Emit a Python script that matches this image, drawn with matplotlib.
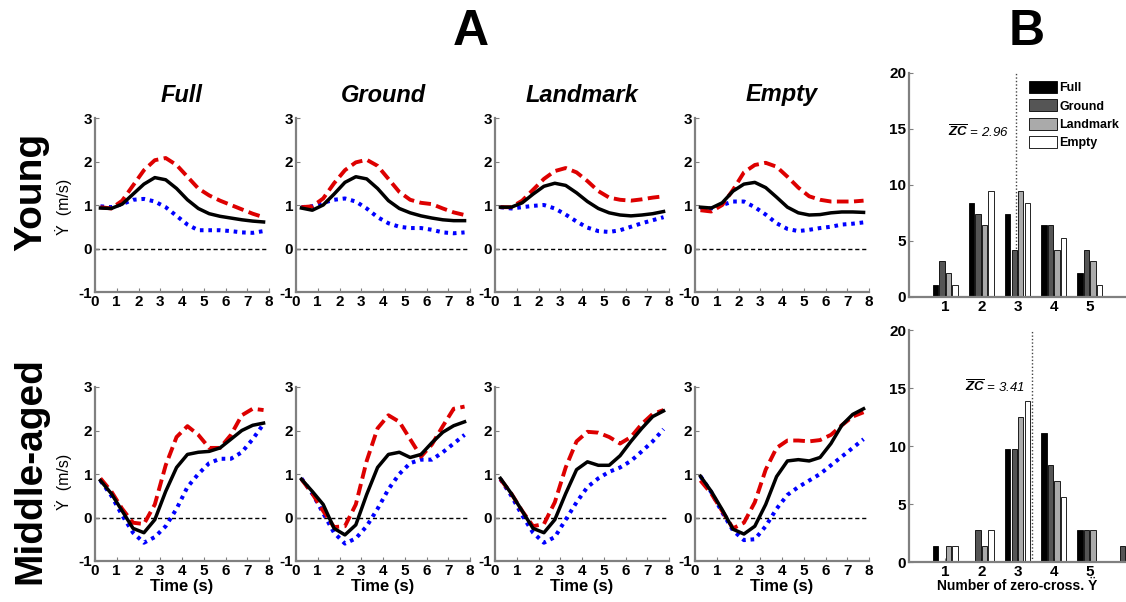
import matplotlib
matplotlib.use("Agg")
import matplotlib.pyplot as plt
from matplotlib.patches import Patch

plt.rcParams['font.family'] = ['Liberation Sans', 'DejaVu Sans']
plt.rcParams['font.weight'] = 'bold'
plt.rcParams['axes.unicode_minus'] = False
plt.rcParams['mathtext.fontset'] = 'custom'
plt.rcParams['mathtext.it'] = 'Liberation Sans:italic'
plt.rcParams['mathtext.rm'] = 'Liberation Sans'

# ---------------- time courses (m/s) ----------------
t = [0.25, 0.75, 1.25, 1.75, 2.25, 2.75, 3.25, 3.75,
     4.25, 4.75, 5.25, 5.75, 6.25, 6.75, 7.25, 7.75]

conditions = ["Full", "Ground", "Landmark", "Empty"]

# Young group
yng_full_k = [0.93, 0.92, 1.02, 1.25, 1.48, 1.63, 1.58, 1.38, 1.12, 0.92, 0.80, 0.74, 0.70, 0.66, 0.63, 0.61]
yng_full_r = [0.95, 0.92, 1.10, 1.45, 1.80, 2.03, 2.08, 1.92, 1.65, 1.38, 1.22, 1.10, 1.00, 0.90, 0.80, 0.72]
yng_full_b = [0.97, 0.95, 1.02, 1.12, 1.14, 1.08, 0.95, 0.75, 0.55, 0.42, 0.42, 0.42, 0.40, 0.37, 0.36, 0.40]

yng_grnd_k = [0.93, 0.88, 1.00, 1.25, 1.52, 1.65, 1.60, 1.38, 1.10, 0.92, 0.82, 0.75, 0.70, 0.66, 0.64, 0.64]
yng_grnd_r = [0.95, 0.97, 1.15, 1.50, 1.80, 1.98, 2.04, 1.90, 1.60, 1.30, 1.12, 1.05, 1.02, 0.92, 0.83, 0.77]
yng_grnd_b = [0.95, 0.97, 1.05, 1.12, 1.15, 1.08, 0.92, 0.72, 0.58, 0.50, 0.47, 0.47, 0.43, 0.37, 0.35, 0.37]

yng_lmk_k = [0.95, 0.95, 1.05, 1.25, 1.43, 1.50, 1.45, 1.28, 1.08, 0.92, 0.82, 0.77, 0.75, 0.77, 0.80, 0.85]
yng_lmk_r = [0.95, 0.95, 1.10, 1.35, 1.60, 1.78, 1.85, 1.75, 1.55, 1.32, 1.17, 1.12, 1.10, 1.13, 1.17, 1.20]
yng_lmk_b = [0.95, 0.92, 0.95, 0.98, 1.00, 0.92, 0.78, 0.62, 0.48, 0.40, 0.38, 0.42, 0.50, 0.58, 0.65, 0.72]

yng_empt_k = [0.95, 0.93, 1.05, 1.32, 1.48, 1.52, 1.40, 1.18, 0.95, 0.82, 0.77, 0.78, 0.82, 0.84, 0.84, 0.83]
yng_empt_r = [0.88, 0.85, 1.00, 1.35, 1.75, 1.92, 1.97, 1.88, 1.65, 1.40, 1.20, 1.12, 1.08, 1.08, 1.08, 1.10]
yng_empt_b = [0.93, 0.92, 1.00, 1.08, 1.08, 0.95, 0.78, 0.58, 0.45, 0.40, 0.43, 0.47, 0.50, 0.55, 0.57, 0.60]

# Middle-aged group
mid_full_k = [0.85, 0.55, 0.15, -0.25, -0.35, -0.05, 0.60, 1.15, 1.45, 1.50, 1.52, 1.60, 1.80, 2.00, 2.12, 2.17]
mid_full_r = [0.90, 0.60, 0.20, -0.12, -0.15, 0.30, 1.20, 1.85, 2.10, 1.90, 1.60, 1.60, 1.90, 2.35, 2.50, 2.47]
mid_full_b = [0.85, 0.50, 0.05, -0.35, -0.58, -0.45, -0.20, 0.20, 0.70, 1.00, 1.25, 1.35, 1.35, 1.50, 1.80, 2.15]

mid_grnd_k = [0.88, 0.60, 0.30, -0.25, -0.40, -0.17, 0.53, 1.15, 1.45, 1.50, 1.38, 1.45, 1.72, 1.96, 2.11, 2.20]
mid_grnd_r = [0.88, 0.55, 0.15, -0.22, -0.20, 0.30, 1.30, 2.05, 2.35, 2.20, 1.80, 1.40, 1.68, 2.10, 2.50, 2.55]
mid_grnd_b = [0.90, 0.55, 0.10, -0.35, -0.60, -0.48, -0.20, 0.20, 0.65, 1.00, 1.25, 1.33, 1.33, 1.50, 1.70, 1.90]

mid_lmk_k = [0.90, 0.55, 0.15, -0.25, -0.35, -0.05, 0.55, 1.10, 1.28, 1.20, 1.20, 1.42, 1.75, 2.05, 2.32, 2.45]
mid_lmk_r = [0.88, 0.55, 0.15, -0.20, -0.15, 0.35, 1.15, 1.75, 1.97, 1.95, 1.85, 1.70, 1.85, 2.15, 2.38, 2.47]
mid_lmk_b = [0.88, 0.50, 0.05, -0.35, -0.58, -0.45, -0.05, 0.35, 0.70, 0.90, 1.05, 1.15, 1.30, 1.52, 1.75, 2.03]

mid_empt_k = [0.95, 0.60, 0.18, -0.27, -0.38, -0.20, 0.30, 0.94, 1.30, 1.33, 1.30, 1.38, 1.70, 2.12, 2.37, 2.50]
mid_empt_r = [0.85, 0.55, 0.15, -0.25, -0.12, 0.35, 1.10, 1.60, 1.77, 1.77, 1.75, 1.78, 1.90, 2.12, 2.32, 2.42]
mid_empt_b = [0.95, 0.58, 0.12, -0.30, -0.52, -0.50, -0.20, 0.20, 0.52, 0.70, 0.85, 1.00, 1.20, 1.40, 1.60, 1.80]

young_rows = [(yng_full_k, yng_full_r, yng_full_b),
              (yng_grnd_k, yng_grnd_r, yng_grnd_b),
              (yng_lmk_k, yng_lmk_r, yng_lmk_b),
              (yng_empt_k, yng_empt_r, yng_empt_b)]
middle_rows = [(mid_full_k, mid_full_r, mid_full_b),
               (mid_grnd_k, mid_grnd_r, mid_grnd_b),
               (mid_lmk_k, mid_lmk_r, mid_lmk_b),
               (mid_empt_k, mid_empt_r, mid_empt_b)]

# ---------------- zero-crossing histograms (%) ----------------
zc_bins = [1, 2, 3, 4, 5, 6]
yng_zc_full = [1.1, 8.4, 7.4, 6.4, 2.1, 0.0]
yng_zc_grnd = [3.2, 7.4, 4.2, 6.4, 4.2, 0.0]
yng_zc_lmk = [2.1, 6.4, 9.5, 4.2, 3.2, 0.0]
yng_zc_empt = [1.1, 9.5, 8.4, 5.3, 1.1, 0.0]
yng_zc_mean = 2.96

mid_zc_full = [1.4, 0.0, 9.7, 11.1, 2.8, 0.0]
mid_zc_grnd = [0.0, 2.8, 9.7, 8.35, 2.8, 1.4]
mid_zc_lmk = [1.4, 1.4, 12.5, 6.95, 2.8, 0.0]
mid_zc_empt = [1.4, 2.8, 13.9, 5.6, 0.0, 0.0]
mid_zc_mean = 3.41

bar_colors = ["#000000", "#555555", "#aaaaaa", "#ffffff"]

# ---------------- figure ----------------
W, H = 1126, 602
fig = plt.figure(figsize=(W / 100, H / 100), dpi=100)
fig.patch.set_facecolor("white")


def px_axes(left, top, right, bottom):
    return fig.add_axes([left / W, 1 - bottom / H, (right - left) / W, (bottom - top) / H])


def fx(x):
    return x / W


def fy(y):
    return 1 - y / H


SPINE = "#808080"


def style_axes(ax):
    for s in ("top", "right"):
        ax.spines[s].set_visible(False)
    for s in ("left", "bottom"):
        ax.spines[s].set_color(SPINE)
        ax.spines[s].set_linewidth(1.6)
    ax.tick_params(direction="in", length=3, color=SPINE, labelsize=11, pad=2)
    for lab in ax.get_xticklabels() + ax.get_yticklabels():
        lab.set_fontweight("bold")


def line_panel(ax, series, show_time):
    k, r, b = series
    ax.axhline(0, color="black", lw=1.0, ls=(0, (3, 2)), zorder=1)
    ax.plot(t, b, color="#0000ff", lw=2.9, dashes=(0.9, 1.2), dash_capstyle="butt", zorder=2)
    ax.plot(t, r, color="#dd0000", lw=2.8, dashes=(3.0, 1.4), dash_capstyle="butt", zorder=3)
    ax.plot(t, k, color="black", lw=2.5, zorder=4)
    ax.set_xlim(0, 8)
    ax.set_ylim(-1, 3)
    ax.set_xticks(range(0, 9))
    ax.set_yticks([-1, 0, 1, 2, 3])
    style_axes(ax)
    if show_time:
        ax.set_xlabel("Time (s)", fontsize=12, fontweight="bold", labelpad=1)


lefts = [95, 296, 495, 695]
for i, name in enumerate(conditions):
    l = lefts[i]
    ax_top = px_axes(l, 118, l + 174, 292)
    line_panel(ax_top, young_rows[i], False)
    fig.text(fx(l + 87), fy(95), name, fontsize=17, fontweight="bold",
             style="italic", ha="center", va="center")
    ax_bot = px_axes(l, 387, l + 174, 561)
    line_panel(ax_bot, middle_rows[i], True)

# row and axis labels
fig.text(fx(31), fy(192), "Young", fontsize=28, fontweight="bold",
         rotation=90, ha="center", va="center")
fig.text(fx(30), fy(471), "Middle-aged", fontsize=28, fontweight="bold",
         rotation=90, ha="center", va="center")
for yc in (207, 482):
    fig.text(fx(64), fy(yc), "\u1e8e  (m/s)", fontsize=11.5, fontweight="normal",
             rotation=90, ha="center", va="center")

fig.text(fx(471), fy(32), "A", fontsize=36, fontweight="bold", ha="center", va="center")
fig.text(fx(1027), fy(32), "B", fontsize=36, fontweight="bold", ha="center", va="center")

# histograms
offsets = [-0.27, -0.09, 0.09, 0.27]
bw = 0.15


def hist_panel(ax, vals, mean, label_xy):
    for j, v in enumerate(vals):
        ax.bar([x + offsets[j] for x in zc_bins], v, width=bw, color=bar_colors[j],
               edgecolor="black", linewidth=0.6, zorder=2)
    ax.axvline(mean, color="#444444", lw=1.0, ls=(0, (1, 1.5)), zorder=1)
    ax.text(label_xy[0], label_xy[1], r"$\overline{ZC}$ = %.2f" % mean, fontsize=9.5,
            fontweight="normal", style="italic", ha="right", va="center")
    ax.set_xlim(0, 6)
    ax.set_ylim(0, 20)
    ax.set_xticks([1, 2, 3, 4, 5])
    ax.set_yticks([0, 5, 10, 15, 20])
    style_axes(ax)


hx_top = px_axes(909, 73, 1126, 297)
hist_panel(hx_top, [yng_zc_full, yng_zc_grnd, yng_zc_lmk, yng_zc_empt], yng_zc_mean, (2.76, 14.7))
handles = [Patch(facecolor=c, edgecolor="black", linewidth=0.6) for c in bar_colors]
hx_top.legend(handles, conditions, loc="upper left", bbox_to_anchor=(fx(1029), fy(81)),
              bbox_transform=fig.transFigure, frameon=False,
              handlelength=2.2, handleheight=1.1, handletextpad=0.2,
              labelspacing=0.4, borderpad=0, borderaxespad=0,
              prop={"weight": "bold", "size": 9})

hx_bot = px_axes(909, 330, 1126, 562)
hist_panel(hx_bot, [mid_zc_full, mid_zc_grnd, mid_zc_lmk, mid_zc_empt], mid_zc_mean, (3.2, 15.1))
hx_bot.set_xlabel("Number of zero-cross. \u0178", fontsize=10, fontweight="bold", labelpad=0)

fig.savefig("out.png", dpi=100, facecolor="white")
